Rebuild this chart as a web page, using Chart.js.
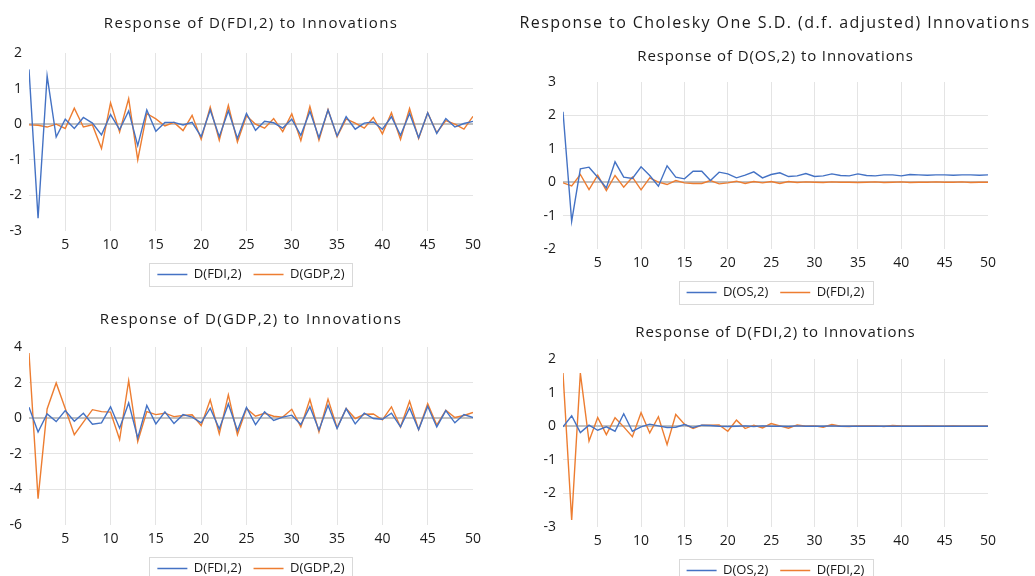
<!DOCTYPE html>
<html>
<head>
<meta charset="utf-8">
<script src="https://cdn.jsdelivr.net/npm/chart.js@4/dist/chart.umd.min.js"></script>
<style>
  html, body { margin: 0; padding: 0; background: #fff; }
  body { width: 1035px; height: 576px; position: relative; overflow: hidden; font-family: 'Open Sans', sans-serif; color: #1a1a1a; }
  .panel { position: absolute; }
  .ttl { position: absolute; text-align: center; font-size: 15px; line-height: 20px; white-space: nowrap; }
</style>
</head>
<body>
<div class="panel" style="left:0;top:0;width:490px;height:295px"><canvas id="c1"></canvas></div>
<div class="panel" style="left:0;top:295px;width:490px;height:290px"><canvas id="c3"></canvas></div>
<div class="panel" style="left:490px;top:0;width:545px;height:310px"><canvas id="c2"></canvas></div>
<div class="panel" style="left:490px;top:310px;width:545px;height:277px"><canvas id="c4"></canvas></div>

<div class="ttl" style="left:29px;width:444px;top:12px;letter-spacing:1.3px">Response of D(FDI,2) to Innovations</div>
<div class="ttl" style="left:29px;width:444px;top:308px;letter-spacing:1.3px">Response of D(GDP,2) to Innovations</div>
<div class="ttl" style="left:515px;width:520px;top:12px;font-size:16px;letter-spacing:1.45px">Response to Cholesky One S.D. (d.f. adjusted) Innovations</div>
<div class="ttl" style="left:563px;width:425px;top:45px;letter-spacing:0.9px">Response of D(OS,2) to Innovations</div>
<div class="ttl" style="left:563px;width:425px;top:321px;letter-spacing:0.9px">Response of D(FDI,2) to Innovations</div>

<script>
/* ─── DATA ────────────────────────────────────────────────── */
const periods = [1, 2, 3, 4, 5, 6, 7, 8, 9, 10, 11, 12, 13, 14, 15, 16, 17, 18, 19, 20,
  21, 22, 23, 24, 25, 26, 27, 28, 29, 30, 31, 32, 33, 34, 35, 36, 37, 38, 39, 40,
  41, 42, 43, 44, 45, 46, 47, 48, 49, 50];
const xTicks = [5, 10, 15, 20, 25, 30, 35, 40, 45, 50];

// Response of D(FDI,2)
const fdiToFdi = [1.54, -2.64, 1.36, -0.36, 0.14, -0.12, 0.19, 0.03, -0.30, 0.27,
  -0.15, 0.37, -0.60, 0.40, -0.20, 0.05, 0.05, -0.02, 0.05, -0.35,
  0.40, -0.35, 0.38, -0.40, 0.30, -0.17, 0.08, 0.04, -0.11, 0.14,
  -0.31, 0.36, -0.38, 0.40, -0.33, 0.21, -0.14, 0.03, 0.06, -0.14,
  0.21, -0.31, 0.30, -0.38, 0.32, -0.26, 0.16, -0.08, 0.02, 0.08];
const fdiToGdp = [-0.02, -0.03, -0.08, 0.00, -0.12, 0.45, -0.08, -0.02, -0.68, 0.60,
  -0.22, 0.72, -1.00, 0.30, 0.15, -0.05, 0.05, -0.18, 0.25, -0.42,
  0.48, -0.45, 0.53, -0.50, 0.24, 0.00, -0.11, 0.16, -0.21, 0.29,
  -0.46, 0.50, -0.45, 0.41, -0.35, 0.15, 0.03, -0.11, 0.19, -0.27,
  0.32, -0.43, 0.44, -0.40, 0.32, -0.24, 0.10, 0.00, -0.14, 0.22];

// Response of D(GDP,2)
const gdpToFdi = [0.62, -0.78, 0.24, -0.19, 0.43, -0.17, 0.28, -0.34, -0.26, 0.64,
  -0.56, 0.86, -1.12, 0.71, -0.32, 0.36, -0.30, 0.20, 0.06, -0.26,
  0.56, -0.60, 0.80, -0.69, 0.60, -0.36, 0.36, -0.13, 0.06, 0.17,
  -0.36, 0.64, -0.67, 0.73, -0.58, 0.54, -0.32, 0.28, -0.02, -0.06,
  0.28, -0.49, 0.58, -0.64, 0.67, -0.49, 0.43, -0.26, 0.21, 0.04];
const gdpToGdp = [3.66, -4.52, 0.52, 1.98, 0.55, -0.93, -0.22, 0.48, 0.37, 0.34,
  -1.20, 2.11, -1.31, 0.37, 0.20, 0.28, 0.09, 0.15, 0.19, -0.41,
  1.03, -0.88, 1.31, -0.93, 0.55, 0.11, 0.28, 0.11, 0.06, 0.50,
  -0.49, 1.05, -0.77, 1.07, -0.54, 0.54, -0.02, 0.22, 0.24, -0.09,
  0.64, -0.50, 0.95, -0.64, 0.82, -0.39, 0.45, 0.04, 0.15, 0.32];

// Response of D(OS,2)
const osToOs = [2.11, -1.17, 0.40, 0.45, 0.15, -0.17, 0.61, 0.15, 0.11, 0.46,
  0.20, -0.12, 0.49, 0.15, 0.10, 0.33, 0.33, 0.05, 0.30, 0.25,
  0.13, 0.21, 0.31, 0.13, 0.23, 0.28, 0.17, 0.19, 0.26, 0.17,
  0.19, 0.25, 0.20, 0.19, 0.25, 0.20, 0.19, 0.22, 0.22, 0.19,
  0.23, 0.22, 0.21, 0.22, 0.22, 0.21, 0.22, 0.22, 0.21, 0.22];
const osToFdi = [-0.02, -0.11, 0.23, -0.22, 0.21, -0.25, 0.20, -0.15, 0.15, -0.23,
  0.13, 0.00, -0.07, 0.05, -0.02, -0.04, -0.04, 0.05, -0.05, -0.02,
  0.03, -0.04, 0.02, -0.02, 0.02, -0.04, 0.02, -0.01, 0.01, 0.00,
  -0.01, 0.01, 0.00, 0.00, -0.01, 0.00, 0.01, -0.01, 0.00, 0.01,
  -0.01, 0.00, 0.00, 0.01, 0.00, 0.00, 0.01, -0.01, 0.00, 0.00];

// Response of D(FDI,2) (OS system)
const fdi2ToOs = [-0.02, 0.31, -0.19, 0.03, -0.12, -0.02, -0.15, 0.37, -0.15, -0.02,
  0.06, 0.01, -0.04, -0.03, 0.05, -0.04, 0.03, 0.02, 0.00, -0.01,
  0.00, 0.01, -0.01, 0.01, 0.00, 0.00, -0.01, 0.01, 0.00, 0.00,
  0.00, 0.01, 0.00, 0.00, 0.00, 0.00, 0.00, 0.00, 0.00, 0.00,
  0.00, 0.00, 0.00, 0.00, 0.00, 0.00, 0.00, 0.00, 0.00, 0.00];
const fdi2ToFdi = [1.58, -2.79, 1.58, -0.44, 0.26, -0.25, 0.25, -0.02, -0.31, 0.40,
  -0.20, 0.28, -0.55, 0.35, 0.06, -0.07, 0.03, 0.03, 0.04, -0.15,
  0.18, -0.07, 0.03, -0.05, 0.08, 0.01, -0.06, 0.04, 0.00, 0.01,
  -0.03, 0.05, 0.00, -0.01, 0.01, 0.01, 0.01, -0.01, 0.02, 0.01,
  0.00, 0.00, 0.01, 0.00, 0.00, 0.01, 0.00, 0.00, 0.00, 0.00];

/* ─── STYLE ───────────────────────────────────────────────── */
const BLUE   = '#4472c4';
const ORANGE = '#ed7d31';
const GRID   = '#e4e4e4';
const ZERO   = '#c0c0c0';

Chart.defaults.font.family = "'Open Sans', sans-serif";
Chart.defaults.color = '#1a1a1a';
Chart.defaults.animation = false;

// centre the legend under the plot area and frame it with a thin grey box
const legendFrame = {
  id: 'legendFrame',
  beforeDraw(chart) {
    const lg = chart.legend;
    if (!lg || !lg.legendHitBoxes) return;
    const shift = (chart.chartArea.left + chart.chartArea.right) / 2 - (lg.left + lg.right) / 2;
    if (Math.abs(shift) < 0.5) return;
    lg.left += shift;
    lg.right += shift;
    // adjustHitBoxes adds the offset onto top, so take it off first
    const off = lg.top + lg.options.labels.padding;
    lg.legendHitBoxes.forEach(b => { b.top -= off; });
    lg.adjustHitBoxes();
  },
  afterDraw(chart) {
    const boxes = chart.legend && chart.legend.legendHitBoxes;
    if (!boxes || !boxes.length) return;
    const left   = Math.min(...boxes.map(b => b.left)) - 8;
    const right  = Math.max(...boxes.map(b => b.left + b.width)) + 8;
    const top    = Math.min(...boxes.map(b => b.top)) - 5;
    const bottom = Math.max(...boxes.map(b => b.top + b.height)) + 5;
    const c = chart.ctx;
    c.save();
    c.strokeStyle = '#d9d9d9';
    c.lineWidth = 1;
    c.strokeRect(Math.round(left) + 0.5, Math.round(top) + 0.5, Math.round(right - left), Math.round(bottom - top));
    c.restore();
  }
};

function series(label, values, color) {
  return {
    label,
    data: periods.map((p, i) => ({ x: p, y: values[i] })),
    borderColor: color,
    backgroundColor: color,
    borderWidth: 1.4,
    pointRadius: 0,
    tension: 0,
  };
}

/* ─── PANEL BUILDER ───────────────────────────────────────── */
function makePanel(id, o) {
  return new Chart(document.getElementById(id), {
    type: 'line',
    data: { datasets: o.datasets },
    plugins: [legendFrame],
    options: {
      responsive: true,
      maintainAspectRatio: false,
      layout: { padding: o.padding },
      plugins: {
        title: { display: false },
        legend: {
          position: 'bottom',
          labels: {
            usePointStyle: true,
            pointStyle: 'line',
            pointStyleWidth: 30,
            boxHeight: 12,
            padding: 12,
            font: { size: 13 },
            color: '#1a1a1a',
          },
        },
        tooltip: { enabled: false },
      },
      scales: {
        x: {
          type: 'linear',
          min: 1,
          max: 50,
          afterBuildTicks: s => { s.ticks = xTicks.map(v => ({ value: v })); },
          afterFit: s => { s.height = 25; },
          border: { display: false },
          grid: {
            color: c => (c.tick && c.tick.value === 50 ? 'rgba(0,0,0,0)' : GRID),
            drawTicks: false,
          },
          ticks: { font: { size: 14 }, padding: 6, maxRotation: 0 },
        },
        y: {
          min: o.yMin,
          max: o.yMax,
          afterBuildTicks: s => { s.ticks = o.yTicks.map(v => ({ value: v })); },
          afterFit: s => { s.width = o.yAxisW; },
          border: { display: false },
          grid: {
            color: c => {
              const v = c.tick && c.tick.value;
              if (v === 0) return ZERO;
              if (v === o.yMin || v === o.yMax) return 'rgba(0,0,0,0)';
              return GRID;
            },
            lineWidth: c => (c.tick && c.tick.value === 0 ? 2 : 1),
            drawTicks: false,
          },
          ticks: { font: { size: 14 }, padding: 7 },
        },
      },
    },
  });
}

/* ─── PANELS ──────────────────────────────────────────────── */
makePanel('c1', {
  datasets: [series('D(FDI,2)', fdiToFdi, BLUE), series('D(GDP,2)', fdiToGdp, ORANGE)],
  yMin: -3, yMax: 2, yTicks: [-3, -2, -1, 0, 1, 2],
  yAxisW: 29,
  padding: { left: 0, right: 17, top: 53, bottom: 4 },
});

makePanel('c3', {
  datasets: [series('D(FDI,2)', gdpToFdi, BLUE), series('D(GDP,2)', gdpToGdp, ORANGE)],
  yMin: -6, yMax: 4, yTicks: [-6, -4, -2, 0, 2, 4],
  yAxisW: 29,
  padding: { left: 0, right: 17, top: 52, bottom: 0 },
});

makePanel('c2', {
  datasets: [series('D(OS,2)', osToOs, BLUE), series('D(FDI,2)', osToFdi, ORANGE)],
  yMin: -2, yMax: 3, yTicks: [-2, -1, 0, 1, 2, 3],
  yAxisW: 73,
  padding: { left: 0, right: 47, top: 82, bottom: 1 },
});

makePanel('c4', {
  datasets: [series('D(OS,2)', fdi2ToOs, BLUE), series('D(FDI,2)', fdi2ToFdi, ORANGE)],
  yMin: -3, yMax: 2, yTicks: [-3, -2, -1, 0, 1, 2],
  yAxisW: 73,
  padding: { left: 0, right: 47, top: 49, bottom: 0 },
});
</script>
</body>
</html>
